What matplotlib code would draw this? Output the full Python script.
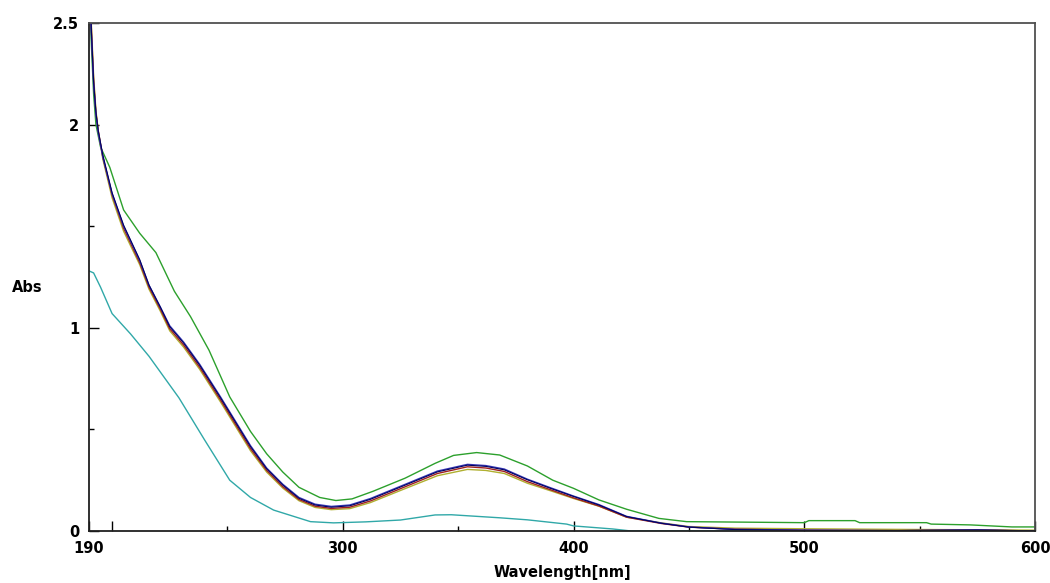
import matplotlib
matplotlib.use('Agg')
import matplotlib.pyplot as plt

# wavelength grid (nm) shared by the four close samples
wl_main = [190, 191, 192, 193, 194, 196, 200, 205, 212, 216, 221, 225, 231, 238,
           247, 260, 267, 274, 281, 288, 295, 303, 312, 326, 341, 354, 362, 370, 380,
           390, 400, 411, 423, 438, 450, 470, 500, 540, 575, 600]

abs_blue = [2.75, 2.45, 2.20, 2.05, 1.96, 1.84, 1.66, 1.50, 1.33, 1.21, 1.10, 1.01, 0.93, 0.82,
            0.66, 0.42, 0.31, 0.23, 0.165, 0.132, 0.121, 0.128, 0.16, 0.225, 0.295, 0.328, 0.322, 0.305, 0.255,
            0.213, 0.172, 0.13, 0.072, 0.039, 0.02, 0.008, 0.004, 0.002, 0.005, 0.0]
abs_navy = [2.78, 2.47, 2.21, 2.06, 1.97, 1.85, 1.665, 1.505, 1.335, 1.21, 1.10, 1.005, 0.925, 0.815,
            0.655, 0.415, 0.306, 0.226, 0.161, 0.128, 0.117, 0.124, 0.156, 0.221, 0.291, 0.324, 0.318, 0.301, 0.252,
            0.21, 0.17, 0.128, 0.071, 0.038, 0.019, 0.007, 0.003, 0.002, 0.005, 0.0]
abs_red = [2.80, 2.48, 2.22, 2.06, 1.97, 1.84, 1.655, 1.49, 1.32, 1.20, 1.09, 0.995, 0.915, 0.805,
           0.645, 0.405, 0.298, 0.218, 0.155, 0.122, 0.111, 0.117, 0.148, 0.213, 0.283, 0.316, 0.31, 0.293, 0.243,
           0.203, 0.163, 0.123, 0.068, 0.037, 0.019, 0.009, 0.004, 0.002, 0.005, 0.0]
abs_olive = [2.82, 2.50, 2.24, 2.07, 1.97, 1.83, 1.64, 1.475, 1.31, 1.19, 1.08, 0.985, 0.905, 0.795,
             0.635, 0.395, 0.29, 0.211, 0.149, 0.116, 0.105, 0.11, 0.14, 0.204, 0.272, 0.303, 0.298, 0.283, 0.235,
             0.198, 0.16, 0.122, 0.068, 0.04, 0.022, 0.014, 0.011, 0.008, 0.006, 0.004]

wl_green = [190, 191, 192, 193, 195, 199, 205, 212, 219, 227, 234, 242, 251, 260, 267, 274,
            281, 290, 297, 304, 313, 327, 340, 348, 358, 368, 380, 391, 400, 411, 423, 437, 449,
            500, 502, 522, 524, 553, 555, 572, 590, 600]
abs_green = [2.70, 2.40, 2.15, 2.00, 1.89, 1.79, 1.58, 1.465, 1.37, 1.18, 1.055, 0.89, 0.66, 0.49, 0.38, 0.29,
             0.215, 0.165, 0.15, 0.158, 0.195, 0.26, 0.333, 0.372, 0.386, 0.374, 0.32, 0.25, 0.21, 0.153, 0.107, 0.062, 0.046,
             0.041, 0.051, 0.051, 0.041, 0.041, 0.034, 0.03, 0.02, 0.02]

wl_teal = [190, 192, 195, 200, 208, 216, 229, 240, 251, 260, 270, 286, 296, 310, 325, 340,
           347, 361, 368, 380, 397, 400, 417, 425, 440, 600]
abs_teal = [1.28, 1.27, 1.20, 1.07, 0.97, 0.86, 0.655, 0.45, 0.25, 0.165, 0.103, 0.046, 0.04, 0.045, 0.054, 0.079,
            0.08, 0.07, 0.065, 0.055, 0.034, 0.025, 0.01, 0.0, 0.0, 0.0]

x_ticks = [190, 200, 300, 400, 500, 600]
x_tick_labels = ['190', '', '300', '400', '500', '600']
y_ticks = [0, 1, 2, 2.5]
y_tick_labels = ['0', '1', '2', '2.5']


def main():
    fig = plt.figure(figsize=(10.5, 5.83), dpi=100)
    ax = fig.add_axes([89 / 1050, 1 - 531 / 583, 946 / 1050, 508 / 583])

    ax.plot(wl_teal, abs_teal, color='#30a8a8', lw=1.0)
    ax.plot(wl_green, abs_green, color='#2ca02c', lw=1.0)
    ax.plot(wl_main, abs_olive, color='#b0b030', lw=1.0)
    ax.plot(wl_main, abs_red, color='#a02020', lw=1.0)
    ax.plot(wl_main, abs_blue, color='#3838b8', lw=1.0)
    ax.plot(wl_main, abs_navy, color='#000060', lw=0.8)

    ax.set_xlim(190, 600)
    ax.set_ylim(0, 2.5)

    ax.set_xticks(x_ticks, labels=x_tick_labels)
    ax.set_xticks([250, 350, 450, 550], minor=True)
    ax.set_yticks(y_ticks, labels=y_tick_labels)
    ax.set_yticks([0.5, 1.5], minor=True)
    ax.tick_params(which='major', direction='in', length=7, width=1, pad=7,
                   labelsize=10.5)
    ax.tick_params(which='minor', direction='in', length=3.5, width=1)
    for lab in ax.get_xticklabels() + ax.get_yticklabels():
        lab.set_fontweight('bold')

    for side in ['left', 'bottom']:
        ax.spines[side].set_color('#202020')
        ax.spines[side].set_linewidth(1.3)
    for side in ['top', 'right']:
        ax.spines[side].set_color('#505050')
        ax.spines[side].set_linewidth(1.3)

    fig.text(12 / 1050, 1 - 288 / 583, 'Abs', fontsize=10.5, fontweight='bold',
             ha='left', va='center')
    fig.text(562 / 1050, 1 - 573 / 583, 'Wavelength[nm]', fontsize=10.5,
             fontweight='bold', ha='center', va='center')

    fig.savefig('out.png', dpi=100)


if __name__ == '__main__':
    main()
